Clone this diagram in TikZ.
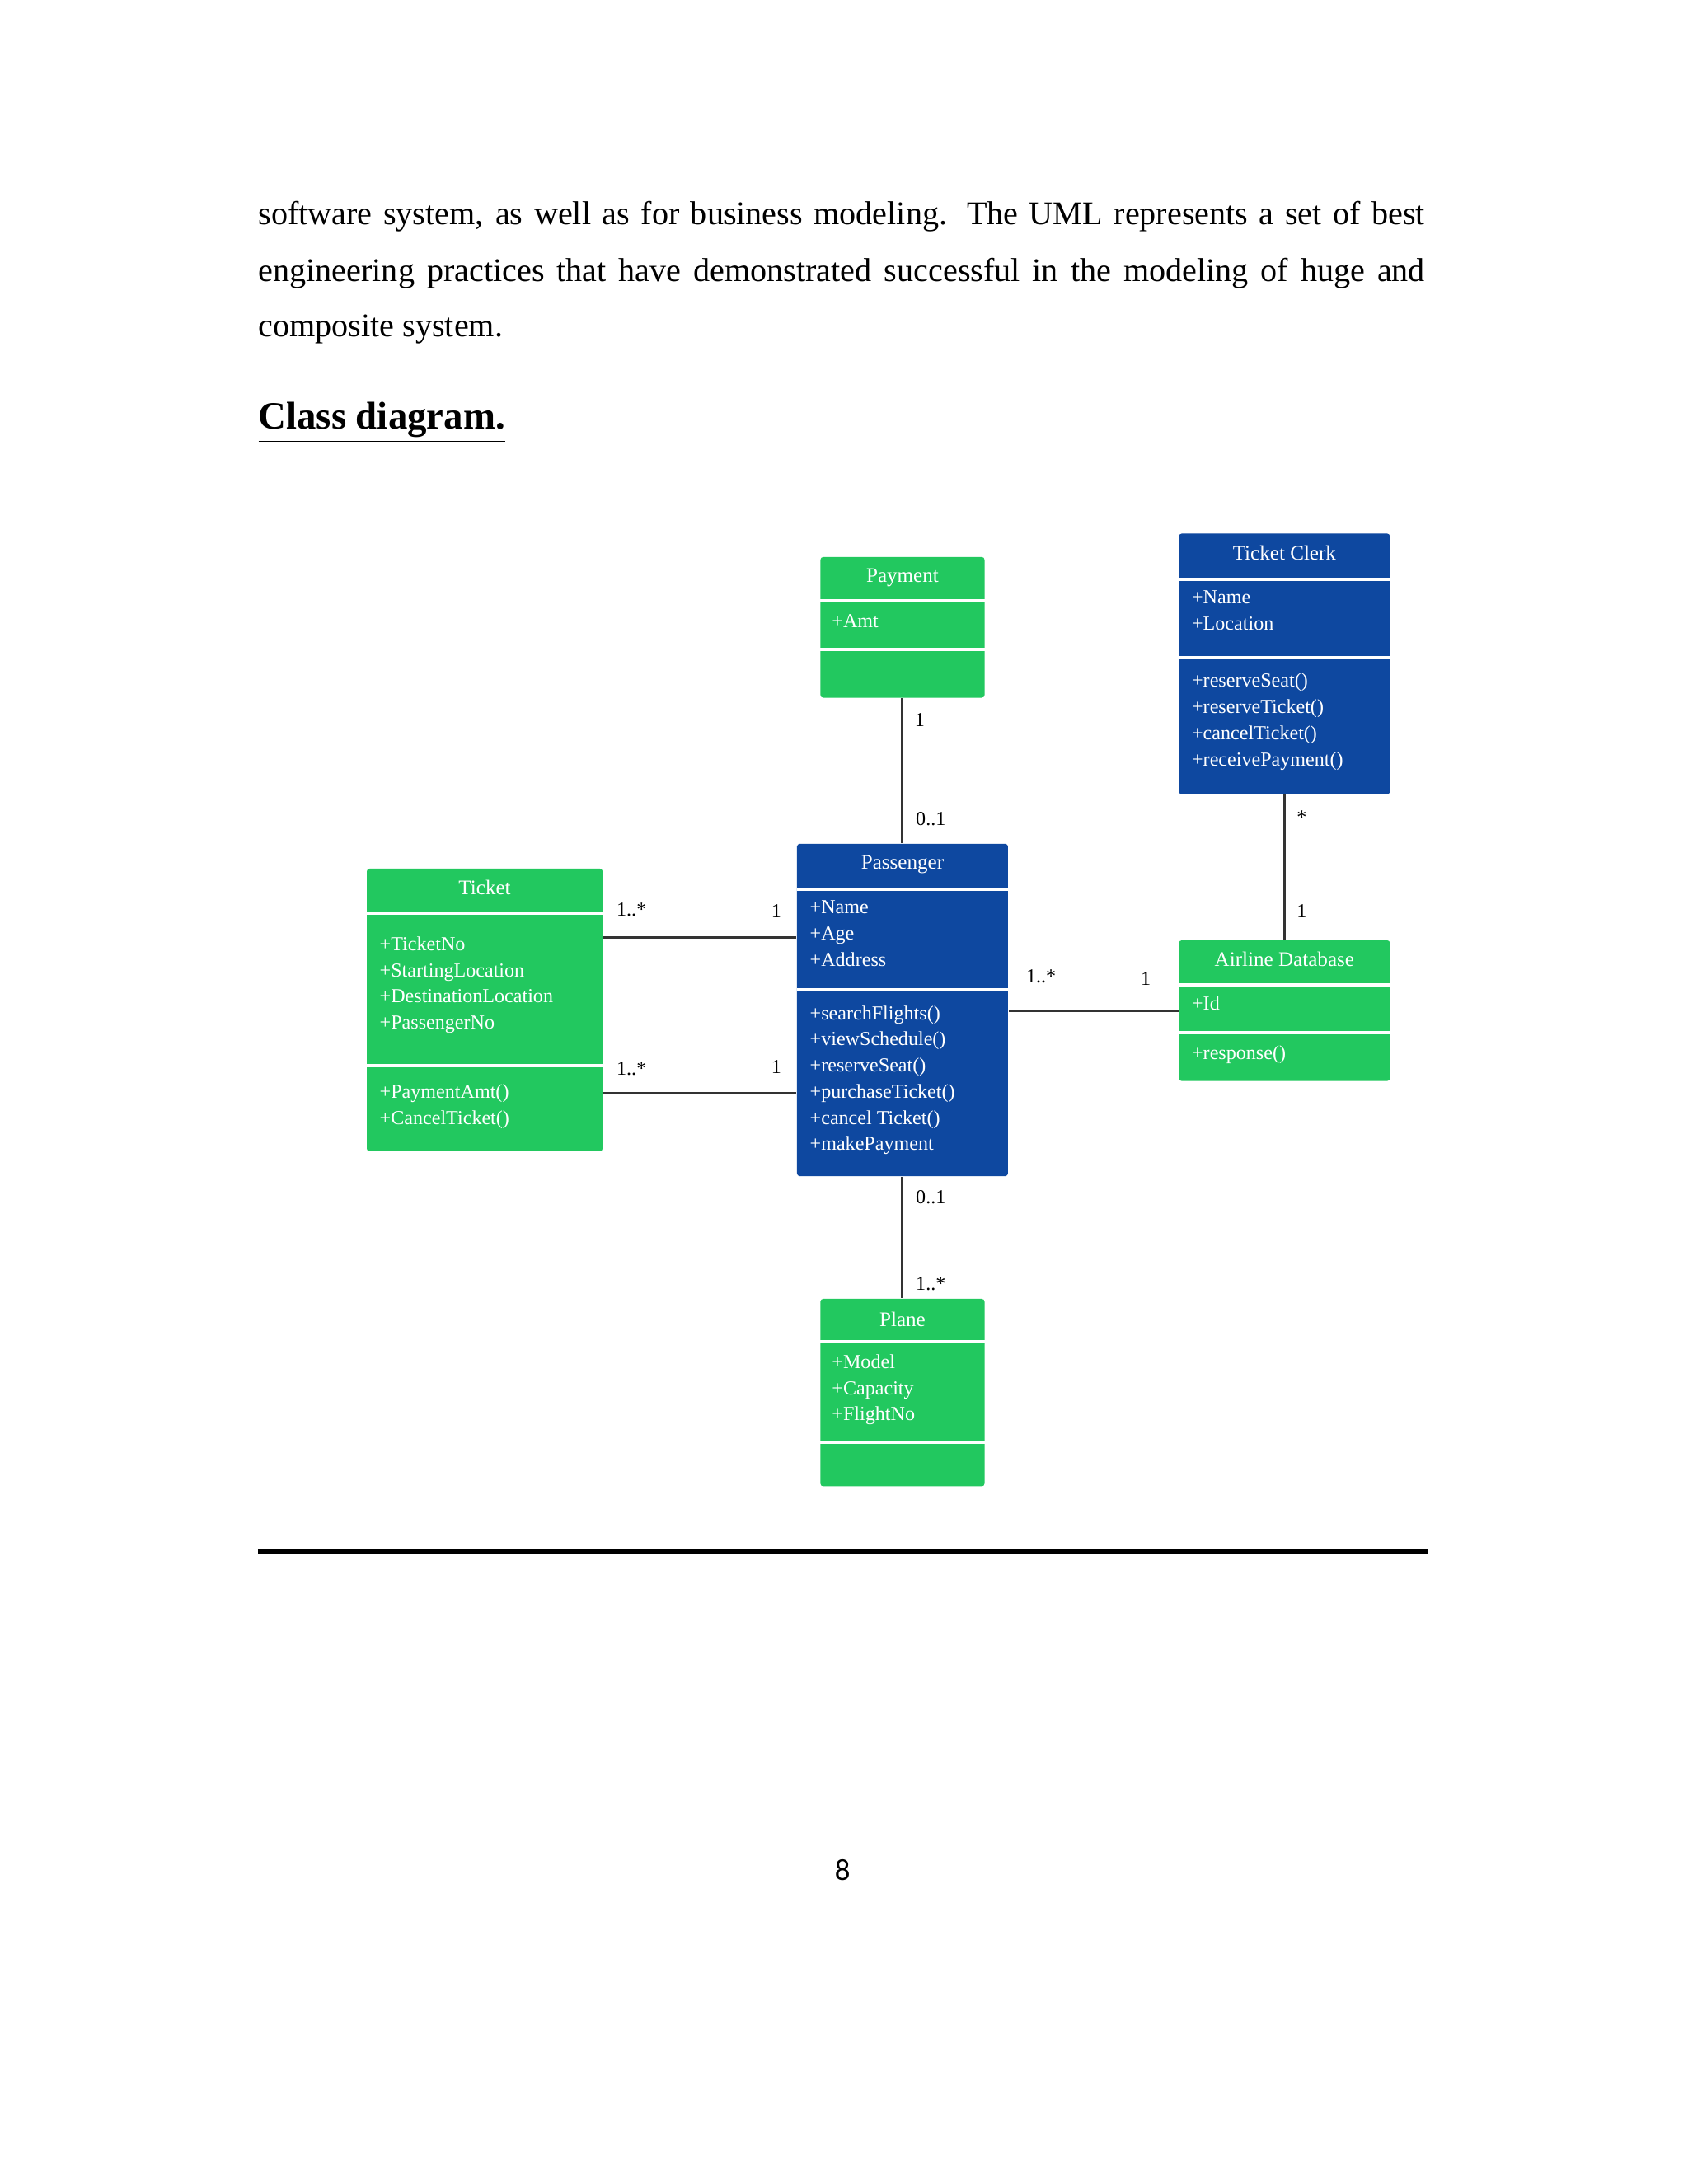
\documentclass[tikz,border=0pt]{standalone}
\usepackage{fontspec}
\setmainfont{Liberation Serif}
\newfontfamily\numfont{Carlito}
\definecolor{umlgreen}{RGB}{34,200,95}
\definecolor{umlblue}{RGB}{14,72,160}
\begin{document}
\begin{tikzpicture}[x=0.5pt,y=-0.5pt,
  box/.style={draw=none,rounded corners=1pt,inner sep=0pt},
  gbox/.style={box,fill=umlgreen},
  bbox/.style={box,fill=umlblue},
  sep/.style={white,line width=1.2pt},
  hd/.style={text=white,font=\fontsize{7.5}{9}\selectfont,inner sep=0pt},
  tx/.style={text=white,font=\fontsize{7.2}{9.5}\selectfont,align=left,anchor=north west,inner sep=0pt},
  conn/.style={draw=black!80,line width=0.9pt},
  ml/.style={font=\fontsize{7.2}{9}\selectfont,inner sep=0pt}]
\fill[white] (0,0) rectangle (1224,1584);
% body text
\node[anchor=base west,inner sep=0pt,font=\fontsize{12}{14}\selectfont] (l1) at (187,163) {\makebox[423pt][s]{software system, as well as for business modeling. The UML represents a set of best}};
\node[anchor=base west,inner sep=0pt,font=\fontsize{12}{14}\selectfont] (l2) at (187,204) {\makebox[423pt][s]{engineering practices that have demonstrated successful in the modeling of huge and}};
\node[anchor=base west,inner sep=0pt,font=\fontsize{12}{14}\selectfont] (l3) at (187,244) {composite system.};
\node[anchor=base west,inner sep=0pt,font=\bfseries\fontsize{14}{16}\selectfont] (h) at (187,311) {\underline{Class diagram.}};
% boxes
\node[gbox,minimum width=59.5pt,minimum height=51pt] (pay) at (654.5,455) {};
\node[bbox,minimum width=76.5pt,minimum height=94.5pt] (clerk) at (931.5,481.5) {};
\node[gbox,minimum width=85.5pt,minimum height=102.5pt] (tick) at (351.5,732.5) {};
\node[bbox,minimum width=76.5pt,minimum height=120.5pt] (pass) at (654.5,732.5) {};
\node[gbox,minimum width=76.5pt,minimum height=51pt] (air) at (931.5,733) {};
\node[gbox,minimum width=59.5pt,minimum height=68pt] (plane) at (654.5,1010) {};
% separators
\draw[sep] (595,436)--(714,436); \draw[sep] (595,471)--(714,471);
\draw[sep] (855,420)--(1008,420); \draw[sep] (855,477)--(1008,477);
\draw[sep] (266,662)--(437,662); \draw[sep] (266,773)--(437,773);
\draw[sep] (578,645)--(731,645); \draw[sep] (578,718)--(731,718);
\draw[sep] (855,714)--(1008,714); \draw[sep] (855,749)--(1008,749);
\draw[sep] (595,973)--(714,973); \draw[sep] (595,1046)--(714,1046);
% headers
\node[hd] (payh) at (654.5,419) {Payment};
\node[hd] (clerkh) at (931.5,401) {Ticket Clerk};
\node[hd] (tickh) at (351.5,644) {Ticket};
\node[hd] (passh) at (654.5,627) {Passenger};
\node[hd] (airh) at (931.5,696) {Airline Database};
\node[hd] (planeh) at (654.5,957) {Plane};
% attributes / operations
\node[tx] (paya) at (603,445) {+Amt};
\node[tx] (clerka) at (864,428) {+Name\\+Location};
\node[tx] (clerko) at (864,488) {+reserveSeat()\\+reserveTicket()\\+cancelTicket()\\+receivePayment()};
\node[tx] (ticka) at (275,679) {+TicketNo\\+StartingLocation\\+DestinationLocation\\+PassengerNo};
\node[tx] (ticko) at (275,786) {+PaymentAmt()\\+CancelTicket()};
\node[tx] (passa) at (587,653) {+Name\\+Age\\+Address};
\node[tx] (passo) at (587,729) {+searchFlights()\\+viewSchedule()\\+reserveSeat()\\+purchaseTicket()\\+cancel Ticket()\\+makePayment};
\node[tx] (aira) at (864,722) {+Id};
\node[tx] (airo) at (864,758) {+response()};
\node[tx] (planea) at (603,982) {+Model\\+Capacity\\+FlightNo};
% connectors
\draw[conn] (pay.south) -- (pass.north);
\draw[conn] (clerk.south) -- (air.north);
\draw[conn] (tick.east |- 0,680) -- (pass.west |- 0,680);
\draw[conn] (tick.east |- 0,793) -- (pass.west |- 0,793);
\draw[conn] (pass.east |- 0,733) -- (air.west |- 0,733);
\draw[conn] (pass.south) -- (plane.north);
% multiplicities
\node[ml] (m1) at (667,522) {1};
\node[ml] (m2) at (675,594) {0..1};
\node[ml] (m3) at (944,593) {*};
\node[ml] (m4) at (944,661) {1};
\node[ml] (m5) at (458,660) {1..*};
\node[ml] (m6) at (563,661) {1};
\node[ml] (m7) at (458,775) {1..*};
\node[ml] (m8) at (563,774) {1};
\node[ml] (m9) at (755,708) {1..*};
\node[ml] (m10) at (831,710) {1};
\node[ml] (m11) at (675,868) {0..1};
\node[ml] (m12) at (675,931) {1..*};
% rule and page number
\draw[line width=1.5pt] (187,1125) -- (1035,1125);
\node[font=\numfont\fontsize{11}{13}\selectfont,inner sep=0pt] (pg) at (611,1356) {8};
\end{tikzpicture}
\end{document}
